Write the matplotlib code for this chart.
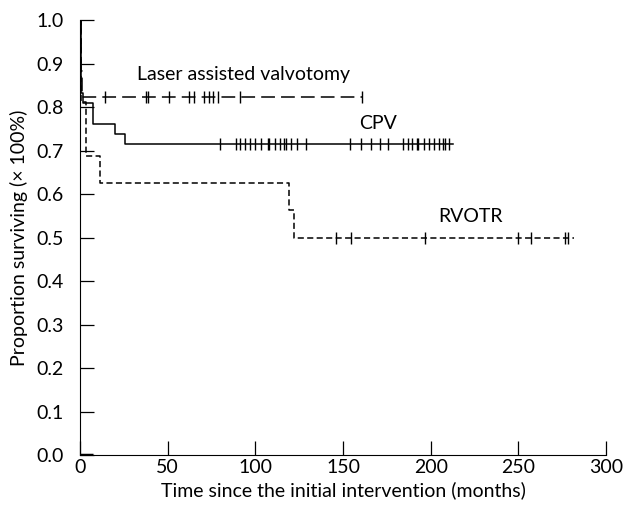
import matplotlib
matplotlib.use('Agg')
import matplotlib.pyplot as plt
import numpy as np

plt.rcParams['font.family'] = ['Lato', 'DejaVu Sans']

# Kaplan-Meier steps (months, proportion surviving)
laser_t = [0, 0.3, 1.3, 161]
laser_s = [1.0, 0.882, 0.824, 0.824]
cpv_t = [0, 0.3, 1.5, 7.2, 19.8, 25.5, 213]
cpv_s = [1.0, 0.833, 0.810, 0.762, 0.738, 0.714, 0.714]
rvotr_t = [0, 0.5, 3.2, 11.3, 119.2, 122.1, 282]
rvotr_s = [1.0, 0.8125, 0.6875, 0.625, 0.5625, 0.5, 0.5]

# censored patients (months)
laser_cens = [14, 37.5, 39, 51, 62, 65, 70.5, 73.5, 76, 78.5, 91.5, 161]
cpv_cens = [80, 89, 91.5, 94.3, 97.2, 100, 103, 107, 108, 111, 114, 116.5,
            117.5, 120.5, 123.5, 129, 154, 160.5, 166, 171, 175.5, 184, 187,
            189.5, 192, 193, 196, 199, 202, 204.5, 207, 208, 210.5]
rvotr_cens = [146, 154.5, 197, 250, 257.5, 276.5, 278.5]

labels = ['Laser assisted valvotomy', 'CPV', 'RVOTR']
label_pos = [(93, 0.874), (170, 0.763), (222.5, 0.549)]


def level(t, s, x):
    t = np.array(t)
    i = np.searchsorted(t, x, side='right') - 1
    return np.array(s)[i]


fig = plt.figure(figsize=(6.23, 5.08), dpi=100)
ax = fig.add_axes([0.1284, 0.1043, 0.8443, 0.8563])

series = [(laser_t, laser_s, laser_cens, (0, (9, 4))),
          (cpv_t, cpv_s, cpv_cens, '-'),
          (rvotr_t, rvotr_s, rvotr_cens, (0, (4, 2.2)))]

for t, s, c, ls in series:
    ax.step(t, s, where='post', color='black', lw=1.1, linestyle=ls)
    ax.plot(c, level(t, s, c), linestyle='none', marker='|', ms=9,
            mew=1.0, color='black')

# short heavy stroke along the time axis near the origin
ax.plot([0, 7.5], [0, 0], color='black', lw=2.5, solid_capstyle='butt')

for txt, (x, y) in zip(labels, label_pos):
    ax.text(x, y, txt, ha='center', va='center', fontsize=14)

ax.set_xlim(0, 300)
ax.set_ylim(0, 1.0)
ax.set_xticks(np.arange(0, 301, 50))
ax.set_yticks(np.arange(0, 1.01, 0.1))
ax.set_yticklabels(['%.1f' % v for v in np.arange(0, 1.01, 0.1)])
ax.spines['top'].set_visible(False)
ax.spines['right'].set_visible(False)
ax.tick_params(axis='both', direction='in', length=10, width=0.9,
               labelsize=14)
ax.tick_params(axis='y', pad=12)
ax.tick_params(axis='x', pad=3)
ax.set_xlabel('Time since the initial intervention (months)', fontsize=14,
              labelpad=4)
ax.set_ylabel('Proportion surviving (× 100%)', fontsize=14, labelpad=6)

fig.savefig('out.png', dpi=100)
